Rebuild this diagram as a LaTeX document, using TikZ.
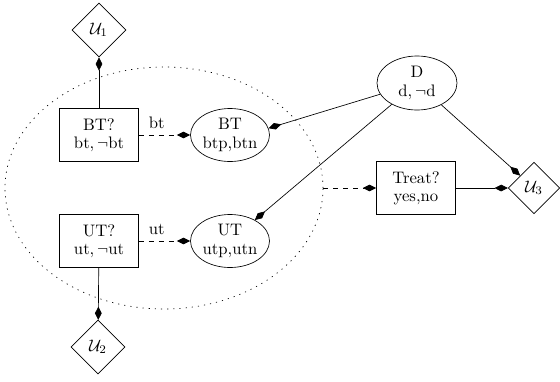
\documentclass[tikz,border=0pt]{standalone}
\usetikzlibrary{shapes.geometric,arrows.meta}
\begin{document}
\begin{tikzpicture}[x=0.6pt,y=-0.6pt,
    chance/.style={draw,ellipse,inner sep=0pt,minimum width=47.4pt,minimum height=31.8pt,align=center,font=\fontsize{10}{11}\selectfont},
    choice/.style={draw,rectangle,minimum width=47.4pt,minimum height=31.8pt,align=center,font=\fontsize{10}{11}\selectfont},
    utility/.style={draw,diamond,inner sep=0pt,minimum size=32.4pt}]
      \useasboundingbox (0,0) rectangle (560,381);
      \path
        (164,188) node[draw,ellipse,dash pattern=on 0.7pt off 3pt,minimum width=190.8pt,minimum height=145.2pt] (test){}
        (99,30) node[utility] (u1){$\mathcal{U}_1$}
        (99,135) node[choice] (btq){BT?\\bt$,\neg$bt}
        (230,135) node[chance] (bt){BT\\btp,btn}
        (99,241) node[choice] (utq){UT?\\ut$,\neg$ut}
        (230,241) node[chance] (ut){UT\\utp,utn}
        (98,347) node[utility] (u2){$\mathcal{U}_2$}
        (417,83) node[chance,minimum width=48pt,minimum height=32.4pt] (d){D\\d$,\neg$d}
        (416,188) node[choice] (treat){Treat?\\yes,no}
        (534,188) node[utility,minimum size=31pt] (u3){$\mathcal{U}_3$};
      \begin{scope}[-{Diamond[length=8pt,width=4pt]}]
        \draw (btq) to (u1);
        \draw (utq) to (u2);
        \draw[dashed] (btq) to node[above,pos=0.35]{bt} (bt);
        \draw[dashed] (utq) to node[above,pos=0.35]{ut} (ut);
        \draw (d) to (bt.10);
        \draw (d) to (ut);
        \draw (d) to (u3);
        \draw[dashed] (test.east) to (treat);
        \draw (treat) to (u3);
      \end{scope}
    \end{tikzpicture}
\end{document}
